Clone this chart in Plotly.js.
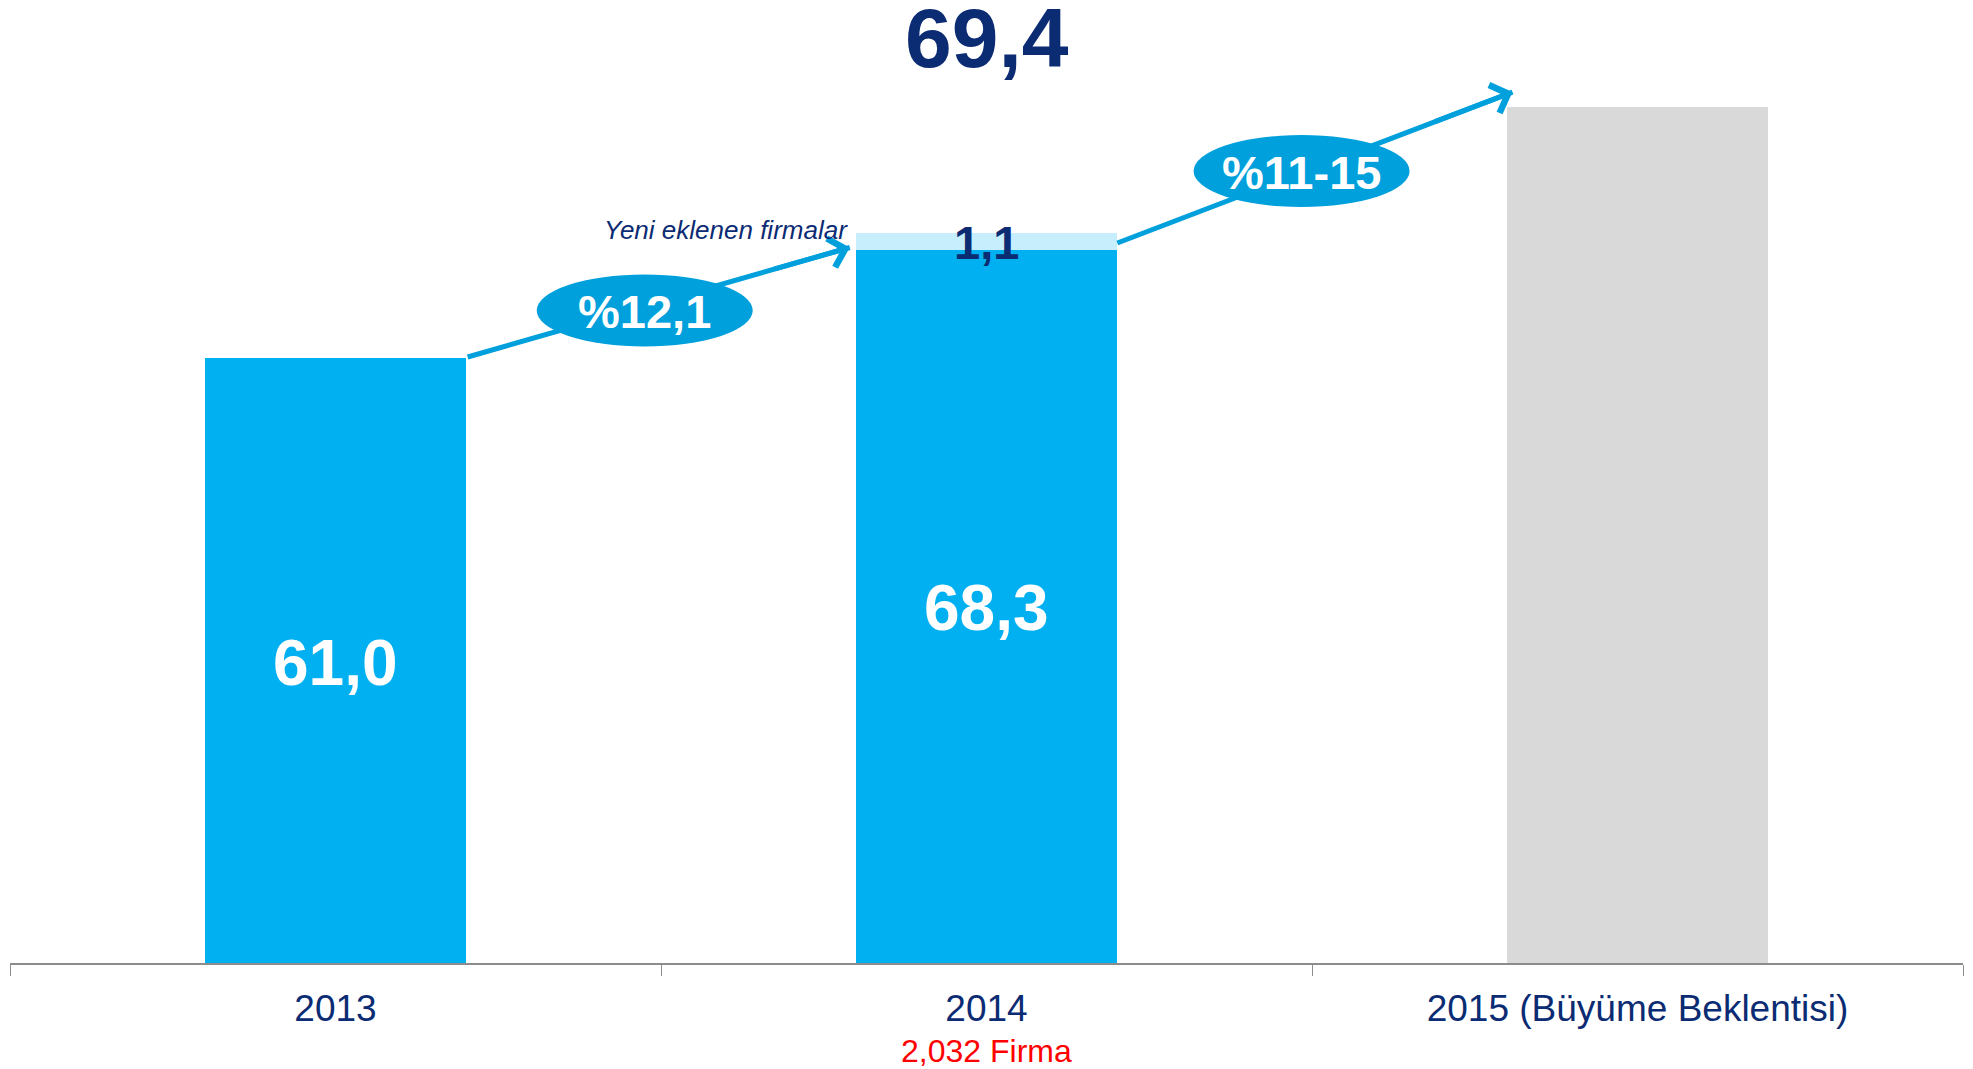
<!DOCTYPE html>
<html>
<head>
<meta charset="utf-8">
<script src="https://cdn.plot.ly/plotly-3.0.1.min.js"></script>
<style>
  html, body { margin: 0; padding: 0; background: #ffffff; }
  #chart { width: 1973px; height: 1069px; }
</style>
</head>
<body>
<div id="chart"></div>
<script>
// ---- data ----
const categories = ['2013', '2014', '2015 (Büyüme Beklentisi)'];
const existingFirms = [61.0, 68.3, 77.9];   // bar values (2015 = expectation, unlabelled)
const newFirms = [0, 1.1, 0];               // newly added firms (2014)
const totalValue = 69.4;                    // 2014 total
const growthLabels = ['%12,1', '%11-15'];
const newFirmsNote = 'Yeni eklenen firmalar';
const firmCountNote = '2,032 Firma';

// ---- style ----
const FONT = 'Liberation Sans, Arial, sans-serif';
const NAVY = '#0b2b73';
const BLUE = '#00B0F0';
const LIGHT = '#C6EEFD';
const GREY = '#D9D9D9';
const CALLOUT = '#00A0DC';
const yRange = [20.42, 85.05];
const halfBar = 0.2;
const fmt = v => v.toFixed(1).replace('.', ',');

const idx = categories.map((c, i) => i);

const traces = [
  {
    type: 'bar', x: categories, y: existingFirms,
    marker: { color: [BLUE, BLUE, GREY] },
    hoverinfo: 'skip'
  },
  {
    type: 'bar', x: categories, y: newFirms,
    marker: { color: LIGHT },
    hoverinfo: 'skip'
  }
];

// arrows: from bar i top-right corner to bar i+1 top-left
const arrows = [
  { x0: idx[0] + halfBar + 0.003, y0: existingFirms[0] + 0.09,
    x1: idx[1] - halfBar - 0.01, y1: existingFirms[1] + 0.14 },
  { x0: idx[1] + halfBar + 0.001, y0: existingFirms[1] + 0.44,
    x1: idx[2] - halfBar + 0.008, y1: existingFirms[2] + 0.97 }
];
const ellipses = [
  { x: (idx[0] + idx[1]) / 2 - 0.025, y: 64.21 },
  { x: (idx[1] + idx[2]) / 2 - 0.016, y: 73.57 }
];

const shapes = [];
const annotations = [];

arrows.forEach((a, i) => {
  shapes.push({
    type: 'line', xref: 'x', yref: 'y', layer: 'above',
    x0: a.x0, y0: a.y0, x1: a.x1, y1: a.y1,
    line: { color: CALLOUT, width: 5 }
  });
  // arrow head only, on the final part of the line
  const t = 0.8;
  annotations.push({
    xref: 'x', yref: 'y', axref: 'x', ayref: 'y',
    x: a.x1, y: a.y1,
    ax: a.x0 + (a.x1 - a.x0) * t, ay: a.y0 + (a.y1 - a.y0) * t,
    text: '', showarrow: true, arrowhead: 4, arrowsize: 1.15,
    arrowwidth: 5, arrowcolor: CALLOUT, standoff: 0, startstandoff: 0
  });
});

ellipses.forEach((e, i) => {
  shapes.push({
    type: 'circle', layer: 'above',
    xref: 'x', yref: 'y',
    xsizemode: 'pixel', ysizemode: 'pixel',
    xanchor: e.x, yanchor: e.y,
    x0: -108, x1: 108, y0: -36, y1: 36,
    fillcolor: CALLOUT, line: { width: 0 }
  });
  annotations.push({
    xref: 'x', yref: 'y', x: e.x, y: e.y, yshift: -1,
    text: '<b>' + growthLabels[i] + '</b>', showarrow: false,
    font: { family: FONT, size: 47, color: '#ffffff' }
  });
});

// inside value labels (centered in visible part of bars)
[0, 1].forEach(i => {
  annotations.push({
    xref: 'x', yref: 'y', x: idx[i],
    y: (yRange[0] + existingFirms[i]) / 2, yshift: -2,
    text: '<b>' + fmt(existingFirms[i]) + '</b>', showarrow: false,
    font: { family: FONT, size: 64, color: '#ffffff' }
  });
});

// new firms segment label
annotations.push({
  xref: 'x', yref: 'y', x: idx[1], y: existingFirms[1] + newFirms[1] / 2, yshift: -1,
  text: '<b>' + fmt(newFirms[1]) + '</b>', showarrow: false,
  font: { family: FONT, size: 47, color: NAVY }
});

// new firms note
annotations.push({
  xref: 'x', yref: 'y', x: idx[1] - halfBar, y: totalValue, xanchor: 'right',
  yanchor: 'middle', xshift: -6, yshift: 3,
  text: '<i>' + newFirmsNote + '</i>', showarrow: false,
  font: { family: FONT, size: 26, color: NAVY }
});

// total label
annotations.push({
  xref: 'x', yref: 'paper', x: idx[1], y: 1, yanchor: 'top', yshift: 11,
  text: '<b>' + fmt(totalValue) + '</b>', showarrow: false,
  font: { family: FONT, size: 84, color: NAVY }
});

// firm count note under 2014
annotations.push({
  xref: 'x', yref: 'paper', x: idx[1], y: 0, yanchor: 'top', yshift: -68,
  text: firmCountNote, showarrow: false,
  font: { family: FONT, size: 32, color: '#FF0000' }
});

const layout = {
  width: 1973, height: 1069,
  margin: { l: 10, r: 10, t: 0, b: 106 },
  paper_bgcolor: '#ffffff', plot_bgcolor: '#ffffff',
  barmode: 'stack', bargap: 0.6,
  showlegend: false,
  xaxis: {
    type: 'category',
    showline: true, linecolor: '#8c8c8c', linewidth: 2,
    ticks: 'outside', tickson: 'boundaries', ticklen: 11, tickcolor: '#8c8c8c', tickwidth: 1,
    ticklabelstandoff: 12,
    showgrid: false, zeroline: false,
    tickfont: { family: FONT, size: 37, color: NAVY },
    range: [-0.5, 2.5]
  },
  yaxis: {
    range: yRange, visible: false, showgrid: false, zeroline: false, fixedrange: true
  },
  shapes: shapes,
  annotations: annotations,
  hovermode: false
};

Plotly.newPlot('chart', traces, layout, { displayModeBar: false, staticPlot: true });
</script>
</body>
</html>
